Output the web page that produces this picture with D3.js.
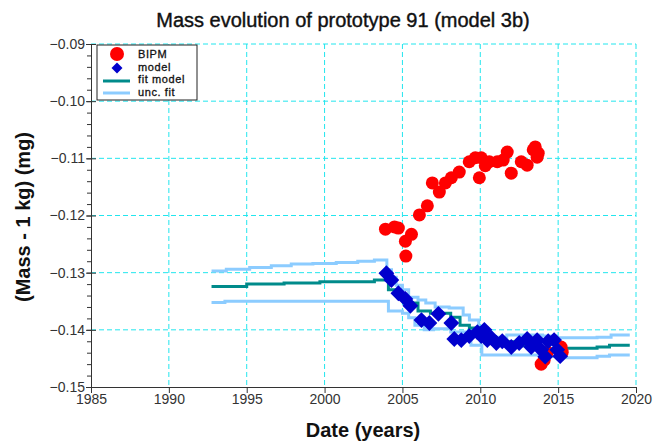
<!DOCTYPE html>
<html>
<head>
<meta charset="utf-8">
<script src="https://cdn.jsdelivr.net/npm/d3@7"></script>
<style>
  body { margin: 0; background: #fff; }
  text { font-family: "Liberation Sans", Arial, sans-serif; }
</style>
</head>
<body>
<div id="chart"></div>
<script>

// BIPM measurements
var bipmYears = [2003.91, 2004.49, 2004.74, 2005.19, 2005.58, 2005.22, 2006.09, 2006.60, 2006.92, 2007.37,
                 2007.76, 2008.14, 2008.65, 2009.29, 2009.68, 2010.06, 2009.94, 2010.32, 2010.58, 2011.09,
                 2011.47, 2011.73, 2011.99, 2012.63, 2013.01, 2013.40, 2013.53, 2013.65, 2013.72,
                 2013.91, 2014.10, 2014.30, 2015.19, 2015.26];
var bipmMass = [-0.1224, -0.1220, -0.1222, -0.1245, -0.1233, -0.1271, -0.1199, -0.1183, -0.1143, -0.1159,
                -0.1143, -0.1134, -0.1124, -0.1106, -0.1099, -0.1099, -0.1134, -0.1113, -0.1106, -0.1106,
                -0.1103, -0.1089, -0.1126, -0.1106, -0.1112, -0.1085, -0.1080, -0.1098, -0.1091,
                -0.1460, -0.1453, -0.1439, -0.1430, -0.1439];

// model values
var modelYears = [2003.97, 2004.29, 2004.74, 2005.19, 2005.51, 2006.22, 2006.73, 2007.31, 2008.14, 2008.33,
                  2008.78, 2009.29, 2009.81, 2010.06, 2010.26, 2010.45, 2010.71, 2011.03, 2011.41, 2011.99,
                  2012.50, 2013.01, 2013.27, 2013.65, 2013.91, 2014.17, 2014.36, 2014.74, 2014.94, 2015.13];
var modelMass = [-0.1301, -0.1313, -0.1336, -0.1346, -0.1358, -0.1383, -0.1388, -0.1372, -0.1388, -0.1416,
                 -0.1418, -0.1411, -0.1404, -0.1411, -0.1400, -0.1418, -0.1414, -0.1423, -0.1420, -0.1430,
                 -0.1423, -0.1416, -0.1430, -0.1418, -0.1435, -0.1447, -0.1420, -0.1418, -0.1435, -0.1446];

// fit model (step line)
var fitYears = [1992.74, 1995.0, 1997.4, 1999.7, 2003.2, 2004.1, 2004.8, 2005.2, 2006.0, 2006.8,
                2008.1, 2008.7, 2009.3, 2009.9, 2010.7, 2012.1, 2013.4, 2015.3, 2017.5, 2018.3, 2019.6];
var fitMass = [-0.1324, -0.1320, -0.1318, -0.1316, -0.1313, -0.1330, -0.1343, -0.1353, -0.1367, -0.1371,
               -0.1378, -0.1392, -0.1397, -0.1406, -0.1421, -0.1428, -0.1434, -0.1432, -0.1430, -0.1427, -0.1427];

// uncertainty of fit, upper and lower
var uncHiYears = [1992.74, 1993.69, 1995.19, 1996.58, 1997.86, 1999.25, 2000.75, 2002.13, 2003.2, 2004.0,
                  2004.3, 2004.6, 2005.0, 2005.4, 2006.0, 2006.5, 2007.1, 2008.0, 2008.9, 2009.3,
                  2009.9, 2010.5, 2011.7, 2014.0, 2014.9, 2017.5, 2018.4, 2019.6];
var uncHi = [-0.1297, -0.1294, -0.1291, -0.1288, -0.1285, -0.1284, -0.1282, -0.1280, -0.1278, -0.1295,
             -0.1308, -0.1322, -0.1330, -0.1343, -0.1348, -0.1353, -0.1360, -0.1362, -0.1374, -0.1383,
             -0.1404, -0.1413, -0.1409, -0.1411, -0.1414, -0.1413, -0.1409, -0.1409];
var uncLoYears = [1992.74, 1993.6, 2004.1, 2005.0, 2005.4, 2005.8, 2006.4, 2007.0, 2008.1, 2009.1,
                  2009.4, 2010.1, 2014.0, 2015.0, 2017.5, 2018.3, 2019.6];
var uncLo = [-0.1352, -0.1350, -0.1367, -0.1371, -0.1379, -0.1392, -0.1400, -0.1398, -0.1404, -0.1413,
             -0.1427, -0.1444, -0.1446, -0.1449, -0.1446, -0.1444, -0.1444];

var xTicks = [1985, 1990, 1995, 2000, 2005, 2010, 2015, 2020];
var yTicks = [-0.15, -0.14, -0.13, -0.12, -0.11, -0.10, -0.09];

var legendNames = ["BIPM", "model", "fit model", "unc. fit"];

var width = 659, height = 444;
var plotL = 91, plotR = 636, plotT = 44, plotB = 387;

var gridColor = "#22e6ee";
var red = "#ff0000", blue = "#0000cc", teal = "#008b8b", light = "#8cccff";

var svg = d3.select("#chart").append("svg")
  .attr("width", width)
  .attr("height", height)
  .style("background", "#fff");

var x = d3.scaleLinear().domain([1985, 2020]).range([plotL, plotR]);
var y = d3.scaleLinear().domain([-0.15, -0.09]).range([plotB, plotT]);

// grid
svg.append("g").selectAll("line")
  .data(xTicks.slice(1))
  .enter().append("line")
    .attr("x1", function(d) { return x(d); })
    .attr("x2", function(d) { return x(d); })
    .attr("y1", plotT).attr("y2", plotB)
    .attr("stroke", gridColor).attr("stroke-width", 1)
    .attr("stroke-dasharray", "5,3");

svg.append("g").selectAll("line")
  .data(yTicks.slice(1))
  .enter().append("line")
    .attr("y1", function(d) { return y(d); })
    .attr("y2", function(d) { return y(d); })
    .attr("x1", plotL).attr("x2", plotR)
    .attr("stroke", gridColor).attr("stroke-width", 1)
    .attr("stroke-dasharray", "5,3");

function zip(xs, ys) {
  return xs.map(function(d, i) { return [d, ys[i]]; });
}

var stepLine = d3.line()
  .x(function(d) { return x(d[0]); })
  .y(function(d) { return y(d[1]); })
  .curve(d3.curveStepAfter);

svg.append("path").datum(zip(uncHiYears, uncHi))
  .attr("d", stepLine).attr("fill", "none")
  .attr("stroke", light).attr("stroke-width", 3);
svg.append("path").datum(zip(uncLoYears, uncLo))
  .attr("d", stepLine).attr("fill", "none")
  .attr("stroke", light).attr("stroke-width", 3);
svg.append("path").datum(zip(fitYears, fitMass))
  .attr("d", stepLine).attr("fill", "none")
  .attr("stroke", teal).attr("stroke-width", 3);

// points
svg.append("g").selectAll("circle")
  .data(zip(bipmYears, bipmMass))
  .enter().append("circle")
    .attr("cx", function(d) { return x(d[0]); })
    .attr("cy", function(d) { return y(d[1]); })
    .attr("r", 6.5)
    .attr("fill", red);

var diamond = d3.symbol().type(d3.symbolSquare).size(125);
svg.append("g").selectAll("path")
  .data(zip(modelYears, modelMass))
  .enter().append("path")
    .attr("d", diamond)
    .attr("transform", function(d) {
      return "translate(" + x(d[0]) + "," + y(d[1]) + ") rotate(45)";
    })
    .attr("fill", blue);

// axes
var xAxis = svg.append("g")
  .attr("transform", "translate(0," + plotB + ")")
  .call(d3.axisBottom(x).tickValues(xTicks).tickSize(6).tickSizeOuter(0).tickFormat(d3.format("d")));
xAxis.selectAll("text").attr("font-size", 14).attr("fill", "#333").attr("y", 6).attr("dy", "0.75em");

var yMinor = d3.range(-150, -89, 2).map(function(d) { return d / 1000; });
var yMinorAxis = svg.append("g")
  .attr("transform", "translate(" + plotL + ",0)")
  .call(d3.axisLeft(y).tickValues(yMinor).tickSize(4).tickSizeOuter(0).tickFormat(""));
yMinorAxis.selectAll(".tick line").attr("x2", -4).attr("x1", 1);

var yAxis = svg.append("g")
  .attr("transform", "translate(" + plotL + ",0)")
  .call(d3.axisLeft(y).tickValues(yTicks).tickSize(5).tickSizeOuter(0).tickFormat(d3.format(".2f")));
yAxis.selectAll(".tick line").attr("x1", 5);
yAxis.selectAll("text").attr("font-size", 14).attr("fill", "#333").attr("x", -6);

svg.selectAll(".domain").attr("stroke", "#333");
svg.selectAll(".tick line").attr("stroke", "#333");

// titles
svg.append("text")
  .attr("x", 343).attr("y", 27)
  .attr("text-anchor", "middle")
  .attr("font-size", 20)
  .attr("fill", "#111").attr("stroke", "#111").attr("stroke-width", 0.4)
  .text("Mass evolution of prototype 91 (model 3b)");

svg.append("text")
  .attr("x", 363).attr("y", 437)
  .attr("text-anchor", "middle")
  .attr("font-size", 20)
  .attr("font-weight", "bold")
  .attr("fill", "#111")
  .text("Date (years)");

svg.append("text")
  .attr("transform", "translate(30,217) rotate(-90)")
  .attr("text-anchor", "middle")
  .attr("font-size", 20)
  .attr("font-weight", "bold")
  .attr("fill", "#111")
  .text("(Mass - 1 kg) (mg)");

// legend
var lg = svg.append("g").attr("transform", "translate(97,45)");
lg.append("rect")
  .attr("width", 100).attr("height", 55)
  .attr("fill", "#fff").attr("stroke", "#222").attr("stroke-width", 1);

lg.append("circle").attr("cx", 20).attr("cy", 9).attr("r", 7).attr("fill", red);
lg.append("path").attr("d", d3.symbol().type(d3.symbolSquare).size(60))
  .attr("transform", "translate(20,23) rotate(45)").attr("fill", blue);
lg.append("line").attr("x1", 6).attr("x2", 33).attr("y1", 36).attr("y2", 36)
  .attr("stroke", teal).attr("stroke-width", 3);
lg.append("line").attr("x1", 6).attr("x2", 33).attr("y1", 48).attr("y2", 48)
  .attr("stroke", light).attr("stroke-width", 3);

lg.selectAll("text.lab")
  .data(legendNames)
  .enter().append("text")
    .attr("class", "lab")
    .attr("x", 41)
    .attr("y", function(d, i) { return 13 + i * 12.5; })
    .attr("font-size", 11)
    .attr("letter-spacing", 0.6)
    .attr("fill", "#111").attr("stroke", "#111").attr("stroke-width", 0.3)
    .text(function(d) { return d; });

</script>
</body>
</html>
